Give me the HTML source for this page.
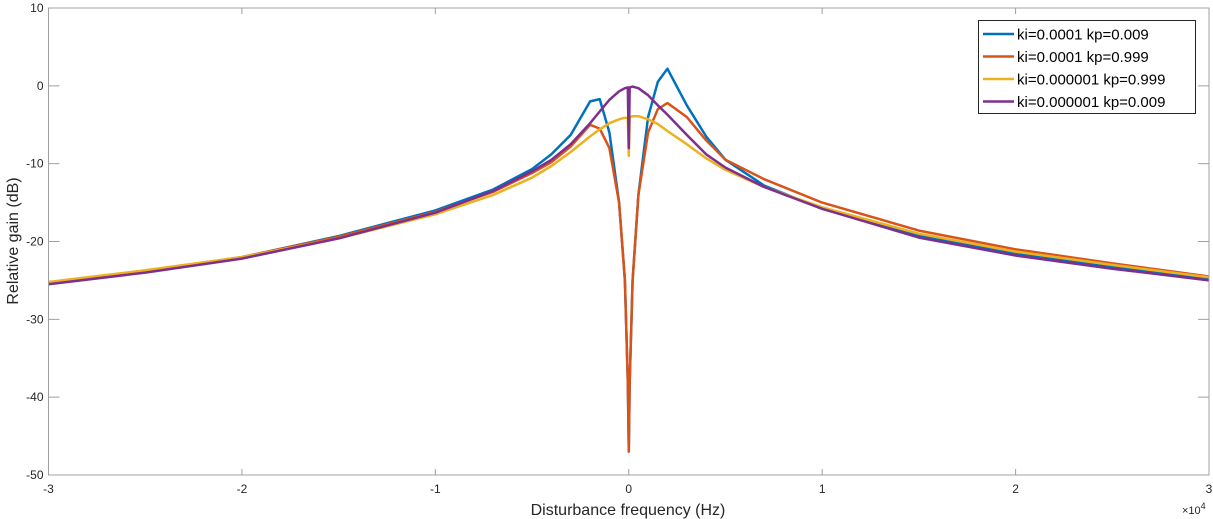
<!DOCTYPE html>
<html><head><meta charset="utf-8"><style>
body{margin:0;background:#fff;}
svg{display:block;font-family:"Liberation Sans",Arial,sans-serif;}
</style></head><body>
<svg id="chart" width="1213" height="519" viewBox="0 0 1213 519">
<rect x="0" y="0" width="1213" height="519" fill="#fff"/>
<g id="plot"></g>
<g id="axes"></g>
<g id="legend"></g>
</svg>
<script>
const freqs = [-30,-25,-20,-15,-10,-7,-5,-4,-3,-2,-1.5,-1,-0.5,-0.2,-0.05,0,0.05,0.2,0.5,1,1.5,2,3,4,5,7,10,15,20,25,30];
const blueVals = [-25.3,-23.8,-22,-19.3,-16,-13.3,-10.7,-8.8,-6.3,-2.0,-1.7,-6,-15,-25,-38,-47,-38,-25,-14,-4,0.5,2.2,-2.5,-6.5,-9.5,-12.8,-15.8,-19.3,-21.6,-23.3,-24.8];
const redVals = [-25.3,-23.8,-22,-19.4,-16.2,-13.6,-11.2,-9.8,-7.8,-5,-5.5,-8,-15,-25,-38,-47,-38,-25,-14,-6,-3,-2.2,-4,-7,-9.5,-12,-15,-18.6,-21,-22.8,-24.5];
const yellowVals = [-25.2,-23.7,-22,-19.6,-16.5,-14,-11.8,-10.3,-8.5,-6.5,-5.6,-4.8,-4.3,-4.1,-4.1,-9,-4,-3.9,-3.9,-4.3,-4.9,-5.8,-7.5,-9.3,-10.8,-13,-15.6,-19,-21.3,-23,-24.6];
const purpleVals = [-25.5,-24,-22.2,-19.6,-16.3,-13.5,-11,-9.5,-7.5,-4.8,-3.3,-1.8,-0.7,-0.3,-0.2,-8,-0.2,-0.1,-0.3,-1.2,-2.5,-3.7,-6.3,-8.8,-10.5,-13,-15.8,-19.5,-21.8,-23.5,-25];
const seriesNames = ["ki=0.0001 kp=0.009","ki=0.0001 kp=0.999","ki=0.000001 kp=0.999","ki=0.000001 kp=0.009"];
const xTicks = [-3,-2,-1,0,1,2,3];
const yTicks = [10,0,-10,-20,-30,-40,-50];

const NS="http://www.w3.org/2000/svg";
const L=48.5,R=1209,T=8,B=475;
const xScale=v=>L+(v-(-30))/60*(R-L);
const yScale=v=>T+(10-v)/60*(B-T);
function mk(tag,parent){const e=document.createElementNS(NS,tag);parent.appendChild(e);return e;}
const plot=document.getElementById('plot'),axes=document.getElementById('axes'),leg=document.getElementById('legend');
const colors=["#0072BD","#D95319","#EDB120","#7E2F8E"];
const allVals=[blueVals,redVals,yellowVals,purpleVals];
const keys=["blue","red","yellow","purple"];
allVals.forEach((vals,i)=>{
  const p=mk('polyline',plot);
  
  
  p.setAttribute('points',freqs.map((f,j)=>xScale(f).toFixed(1)+','+yScale(vals[j]).toFixed(1)).join(' '));
  p.setAttribute('fill','none');p.setAttribute('stroke',colors[i]);p.setAttribute('stroke-width','2.5');p.setAttribute('stroke-linejoin','round');
});
const box=mk('rect',axes);


box.setAttribute('x',L);box.setAttribute('y',T);box.setAttribute('width',R-L);box.setAttribute('height',B-T);
box.setAttribute('fill','none');box.setAttribute('stroke','#a0a0a0');box.setAttribute('stroke-width','1');
xTicks.forEach(t=>{
  const x=xScale(t*10);
  const l=mk('path',axes);
  
  
  l.setAttribute('d',`M${x},${B}v-6M${x},${T}v6`);l.setAttribute('stroke','#a0a0a0');
  const tx=mk('text',axes);
  
  
  tx.setAttribute('x',x);tx.setAttribute('y',B+18);tx.setAttribute('text-anchor','middle');tx.setAttribute('font-size','12');tx.setAttribute('fill','#262626');
  tx.textContent=t;
});
yTicks.forEach(t=>{
  const y=yScale(t);
  const l=mk('path',axes);
  
  
  l.setAttribute('d',`M${L},${y}h11M${R},${y}h-11`);l.setAttribute('stroke','#a0a0a0');
  const tx=mk('text',axes);
  
  
  tx.setAttribute('x',L-5);tx.setAttribute('y',y+4);tx.setAttribute('text-anchor','end');tx.setAttribute('font-size','12');tx.setAttribute('fill','#262626');
  tx.textContent=t;
});
const lb=mk('rect',leg);


lb.setAttribute('x',978.5);lb.setAttribute('y',20.5);lb.setAttribute('width',217);lb.setAttribute('height',93);lb.setAttribute('fill','#fff');lb.setAttribute('stroke','#262626');
seriesNames.forEach((n,i)=>{
  const y=34+i*22.5;
  const ln=mk('line',leg);
  
  
  ln.setAttribute('x1',983);ln.setAttribute('x2',1014);ln.setAttribute('y1',y);ln.setAttribute('y2',y);ln.setAttribute('stroke',colors[i]);ln.setAttribute('stroke-width','2.5');
  const tx=mk('text',leg);
  
  
  tx.setAttribute('x',1017);tx.setAttribute('y',y+5.5);tx.setAttribute('font-size','15');tx.setAttribute('fill','#000');
  tx.textContent=n;
});
</script>
<svg style="position:absolute;left:0;top:0" width="1213" height="519">
<text x="628" y="515" text-anchor="middle" font-size="16" fill="#262626" font-family="Liberation Sans, sans-serif">Disturbance frequency (Hz)</text>
<text transform="translate(18,241) rotate(-90)" text-anchor="middle" font-size="16" fill="#262626" font-family="Liberation Sans, sans-serif">Relative gain (dB)</text>
<text x="1182" y="514" font-size="11" fill="#262626" font-family="Liberation Sans, sans-serif">×10<tspan dy="-5" font-size="9">4</tspan></text>
</svg>
</body></html>
